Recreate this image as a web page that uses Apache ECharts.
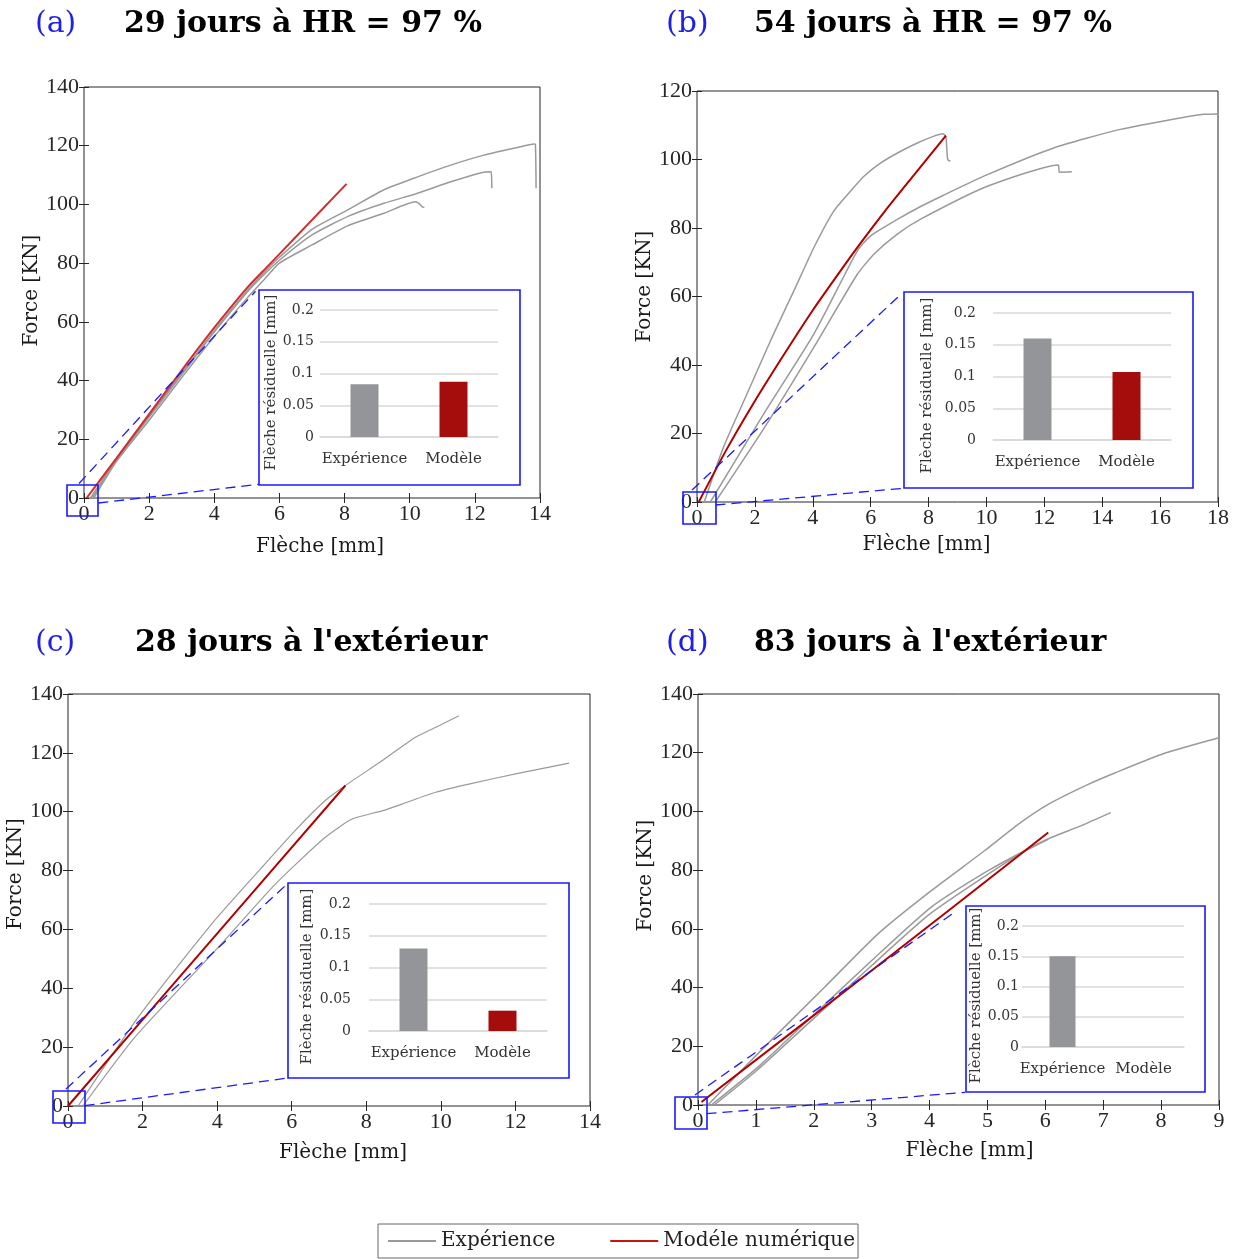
<!DOCTYPE html>
<html><head><meta charset="utf-8">
<script src="https://cdn.jsdelivr.net/npm/echarts@6/dist/echarts.min.js"></script>
<style>html,body{margin:0;padding:0;background:#fff}#c{width:1244px;height:1259px}</style>
</head><body><div id="c"></div>
<script>
// ---------------- DATA ----------------
const panelLabels = ['(a)', '(b)', '(c)', '(d)'];
const panelTitles = ['29 jours à HR = 97 %', '54 jours à HR = 97 %', "28 jours à l'extérieur", "83 jours à l'extérieur"];
const xAxisMax = [14, 18, 14, 9];
const xAxisInterval = [2, 2, 2, 1];
const yAxisMax = [140, 120, 140, 140];
const yAxisInterval = 20;
const xAxisName = 'Flèche [mm]';
const yAxisName = 'Force [KN]';

const barCategories = ['Expérience', 'Modèle'];
const residualA = [0.083, 0.087];
const residualB = [0.160, 0.107];
const residualC = [0.130, 0.032];
const residualD = [0.150, 0];
const insetAxisName = 'Flèche résiduelle [mm]';
const insetYMax = 0.2;
const insetYInterval = 0.05;

const legendNames = ['Expérience', 'Modéle numérique'];

// (a) 29 jours à HR = 97 %
const modelA = [[0.08,0],[1,13.6],[2,28.6],[3,43.5],[4,58],[5,71.5],[5.63,78.8],[6.5,88.9],[7.3,98.2],[8.06,107]];
const expA1 = [[0.2,0],[1,13.5],[2,28],[3,42.5],[4,57],[5,70.5],[5.5,76.5],[6,82],[7,91.5],[8.14,98.4],[9.21,105],[10.24,109.4],[11.26,113.4],[12.28,116.8],[13.3,119.4],[13.82,120.6],[13.86,120.4],[13.88,105.5]];
const expA2 = [[0.25,0],[1,13],[2,27.5],[3,42],[4,56.5],[5,70],[5.5,75.8],[6,81],[7,89.6],[8.14,96.1],[9.21,100.4],[10.24,103.8],[11.26,107.7],[12.23,110.9],[12.5,111.1],[12.52,105.5]];
const expA3 = [[0.3,0],[1,12.5],[2,26.5],[3,41],[4,55],[5,68],[5.5,74],[6,80],[7,86.2],[8.09,92.7],[9.21,97],[10.18,100.9],[10.3,100.2],[10.38,99.2],[10.45,99.0]];

// (b) 54 jours à HR = 97 %
const modelB = [[0.06,0],[1,15],[2,29.5],[3,43],[4,56],[5,68],[5.6,75],[6.5,85],[7.5,95.5],[8.6,107]];
const expB1 = [[0.25,0],[0.92,16.1],[1.73,31.6],[2.54,47.1],[3.35,61.7],[4.04,74.3],[4.73,85],[5.31,90.8],[5.77,95.1],[6.35,99],[7.04,102.4],[7.71,105.2],[8.5,107.5],[8.6,106.5],[8.66,100],[8.75,99.5]];
const expB2 = [[0.46,0],[2.31,25.8],[4.04,49.1],[5.54,73.3],[6,77.7],[6.92,82.5],[7.71,86.2],[8.5,89.5],[10.01,95.5],[12.3,103.3],[14.62,108.8],[16.92,112.5],[17.5,113.2],[18,113.3]];
const expB3 = [[0.63,0],[2.42,22.9],[4.04,45.2],[5.54,66.5],[6.12,72.4],[6.92,78.2],[7.71,82.5],[10.01,92.1],[12.48,98.4],[12.52,96.3],[12.95,96.4]];

// (c) 28 jours à l'extérieur
const modelC = [[0,0],[3.72,54.5],[7.44,108.9]];
const expC1 = [[0.27,0],[1.88,30.1],[3.85,61.8],[5.2,81.1],[6.09,93.6],[6.9,103.8],[7.44,108.9],[8.42,117.3],[9.32,125.3],[9.95,129.2],[10.48,132.6]];
const expC2 = [[0.4,0],[1.79,23.3],[4.03,53.9],[5.56,75.4],[6.9,91.3],[7.62,97.5],[8.42,100.3],[8.96,102.6],[9.86,106.6],[10.75,109.4],[12.1,113.1],[13.44,116.5]];

// (d) 83 jours à l'extérieur
const modelD = [[0.06,1],[3.0,45.8],[6.05,92.8]];
const expD1 = [[0.17,0],[1.15,19.8],[2.19,40.2],[3.11,58.3],[4.03,73],[4.95,86.6],[5.53,95.6],[6.05,102.4],[6.74,109.2],[7.2,113.1],[8.06,119.8],[9,125.1]];
const expD2 = [[0.23,0],[1.04,13],[2.02,31.1],[3.0,49.2],[4.03,67.4],[5.01,79.8],[5.7,87.2],[6.1,91.1],[6.6,95],[7.13,99.6]];
const expD3 = [[0.28,0],[1.0,11.5],[2,29.5],[3,47.5],[4,65],[5,78.5],[5.6,86],[6.05,90.5]];

const expCurves = [[expA1, expA2, expA3], [expB1, expB2, expB3], [expC1, expC2], [expD1, expD2, expD3]];
const modelCurves = [modelA, modelB, modelC, modelD];
const residuals = [residualA, residualB, residualC, residualD];

// ---------------- LAYOUT / STYLE ----------------
const SERIF = 'DejaVu Serif';
const TICKF = 'Liberation Serif';
const AXC = '#262626';
const GRAY = '#9a9a9a';
const REDS = ['#d42c2c', '#b00000', '#b00000', '#b00000'];
const BLUE = '#1a1aff';
const BAR_GRAY = '#939598';
const BAR_RED = '#a50d0d';

const mainGrids = [
  {left: 84, top: 87, width: 456, height: 411},
  {left: 697, top: 91, width: 521, height: 411},
  {left: 68, top: 694, width: 522, height: 412},
  {left: 698, top: 694, width: 521, height: 411}
];
const insetGrids = [
  {left: 320, top: 310, width: 178, height: 127},
  {left: 993, top: 313, width: 178, height: 127},
  {left: 369, top: 904, width: 178, height: 127},
  {left: 1022, top: 926, width: 162, height: 121}
];
const insetBoxes = [[259, 290, 261, 195], [904, 292, 289, 196], [288, 883, 281, 195], [966, 906, 239, 186]];
const zoomBoxes = [[67, 485, 31, 31], [683, 492, 33, 32], [53, 1091, 32, 32], [675, 1097, 32, 32]];
const dashUpper = [[79, 483.5, 255.5, 291.3], [692, 490, 898, 297], [66, 1089, 286, 885], [695, 1095, 955, 912]];
const dashLower = [[98.3, 503, 258.7, 484.3], [715.5, 505, 903.7, 488.3], [84.5, 1105.7, 288, 1078], [706.5, 1113.7, 965, 1092.3]];
const titlePos = [[35, 124, 24.5], [666, 754, 24.5], [35, 135, 643.5], [666, 754, 643.5]];

const xNameGap = [39, 33, 37, 36];
const xNameShift = [8, -31, 14, 11];
const yNameGap = [37, 40, 40, 36];
const yNameUp = [2, 10, 26, 24];
const insetLabelMargin = [6, 17, 18, 3];
const insetNameGap = [39, 58, 54, 35];

function pad(shift) { return shift >= 0 ? [0, 0, 0, 2 * shift] : [0, -2 * shift, 0, 0]; }

const grid = [], xAxis = [], yAxis = [], series = [], graphic = [];
for (let i = 0; i < 4; i++) grid.push(Object.assign({show: true, borderColor: AXC, borderWidth: 1, backgroundColor: 'transparent', containLabel: false}, mainGrids[i]));
for (let i = 0; i < 4; i++) grid.push(Object.assign({show: false, containLabel: false}, insetGrids[i]));

const tickStyle = {show: true, inside: true, length: 5, lineStyle: {color: AXC, width: 1}};
for (let i = 0; i < 4; i++) {
  xAxis.push({
    gridIndex: i, type: 'value', position: 'bottom', min: 0, max: xAxisMax[i], interval: xAxisInterval[i],
    axisLine: {show: false}, axisTick: tickStyle, splitLine: {show: false},
    axisLabel: {fontFamily: TICKF, fontSize: 22, color: AXC, margin: 5, showMinLabel: true, showMaxLabel: true},
    name: xAxisName, nameLocation: 'middle', nameGap: xNameGap[i],
    nameTextStyle: {fontFamily: SERIF, fontSize: 20, color: '#1a1a1a', padding: pad(xNameShift[i])}
  });
  yAxis.push({
    gridIndex: i, type: 'value', position: 'left', min: 0, max: yAxisMax[i], interval: yAxisInterval,
    axisLine: {show: false}, axisTick: tickStyle, splitLine: {show: false},
    axisLabel: {fontFamily: TICKF, fontSize: 22, color: AXC, margin: 5, showMinLabel: true, showMaxLabel: true},
    name: yAxisName, nameLocation: 'middle', nameGap: yNameGap[i],
    nameTextStyle: {fontFamily: SERIF, fontSize: 20, color: '#1a1a1a', padding: pad(yNameUp[i])}
  });
}
for (let i = 0; i < 4; i++) {
  xAxis.push({gridIndex: i, type: 'value', position: 'top', min: 0, max: xAxisMax[i], interval: xAxisInterval[i],
    axisLine: {show: false}, axisTick: tickStyle, axisLabel: {show: false}, splitLine: {show: false}});
  yAxis.push({gridIndex: i, type: 'value', position: 'right', min: 0, max: yAxisMax[i], interval: yAxisInterval,
    axisLine: {show: false}, axisTick: tickStyle, axisLabel: {show: false}, splitLine: {show: false}});
}
for (let i = 0; i < 4; i++) {
  xAxis.push({gridIndex: 4 + i, type: 'category', data: barCategories,
    axisLine: {show: true, lineStyle: {color: '#d9d9d9', width: 1.5}}, axisTick: {show: false},
    axisLabel: {fontFamily: SERIF, fontSize: 15, color: '#333', margin: 15, interval: 0, hideOverlap: false}});
  yAxis.push({gridIndex: 4 + i, type: 'value', min: 0, max: insetYMax, interval: insetYInterval,
    axisLine: {show: false}, axisTick: {show: false},
    splitLine: {show: true, lineStyle: {color: '#d9d9d9', width: 1.5}},
    axisLabel: {fontFamily: SERIF, fontSize: 14, color: '#333', margin: insetLabelMargin[i]},
    name: insetAxisName, nameLocation: 'middle', nameGap: insetNameGap[i],
    nameTextStyle: {fontFamily: SERIF, fontSize: 15, color: '#333', padding: [0, 18, 0, 0]}});
}

for (let i = 0; i < 4; i++) {
  expCurves[i].forEach(function (c) {
    series.push({type: 'line', name: legendNames[0], xAxisIndex: i, yAxisIndex: i, data: c,
      symbol: 'none', showSymbol: false, smooth: 0.2, lineStyle: {color: GRAY, width: i === 2 ? 1.2 : 1.5}, itemStyle: {color: GRAY},
      z: 2, silent: true, animation: false});
  });
  series.push({type: 'line', name: legendNames[1], xAxisIndex: i, yAxisIndex: i, data: modelCurves[i],
    symbol: 'none', showSymbol: false, smooth: 0.2, lineStyle: {color: REDS[i], width: 2}, itemStyle: {color: REDS[i]},
    z: 3, silent: true, animation: false});
  series.push({type: 'bar', name: 'residual' + i, xAxisIndex: 8 + i, yAxisIndex: 8 + i, barWidth: i === 3 ? 26 : 28,
    data: residuals[i].map(function (v, k) { return {value: v, itemStyle: {color: k === 0 ? BAR_GRAY : BAR_RED}}; }),
    silent: true, animation: false, z: 4});
}

for (let i = 0; i < 4; i++) {
  const b = insetBoxes[i], z = zoomBoxes[i], du = dashUpper[i], dl = dashLower[i], t = titlePos[i];
  graphic.push({type: 'rect', shape: {x: b[0], y: b[1], width: b[2], height: b[3]}, style: {fill: 'transparent', stroke: BLUE, lineWidth: 1.6}, z: 5, silent: true});
  graphic.push({type: 'rect', shape: {x: z[0], y: z[1], width: z[2], height: z[3]}, style: {fill: 'transparent', stroke: BLUE, lineWidth: 1.6}, z: 5, silent: true});
  graphic.push({type: 'line', shape: {x1: du[0], y1: du[1], x2: du[2], y2: du[3]}, style: {stroke: BLUE, lineWidth: 1.3, lineDash: [10, 6]}, z: 5, silent: true});
  graphic.push({type: 'line', shape: {x1: dl[0], y1: dl[1], x2: dl[2], y2: dl[3]}, style: {stroke: BLUE, lineWidth: 1.3, lineDash: [10, 6]}, z: 5, silent: true});
  graphic.push({type: 'text', x: t[0], y: t[2], style: {text: panelLabels[i], font: '30px "DejaVu Serif"', fill: '#1f1fe6', textVerticalAlign: 'middle', verticalAlign: 'middle'}, silent: true});
  graphic.push({type: 'text', x: t[1], y: t[2], style: {text: panelTitles[i], font: 'bold 30px "DejaVu Serif"', fill: '#000', textVerticalAlign: 'middle', verticalAlign: 'middle'}, silent: true});
}

const option = {
  animation: false,
  backgroundColor: '#fff',
  grid: grid, xAxis: xAxis, yAxis: yAxis, series: series, graphic: graphic,
  legend: {
    show: true, left: 378, top: 1224, orient: 'horizontal', selectedMode: false,
    padding: [7, 3, 7, 10], itemGap: 55, itemWidth: 48, itemHeight: 2, icon: 'rect',
    borderColor: '#666', borderWidth: 1, backgroundColor: '#fff',
    textStyle: {fontFamily: SERIF, fontSize: 20, color: '#222'},
    data: [
      {name: legendNames[0], icon: 'rect', itemStyle: {color: GRAY}},
      {name: legendNames[1], icon: 'rect', itemStyle: {color: '#cc1111'}}
    ]
  }
};
const chart = echarts.init(document.getElementById('c'));
chart.setOption(option);
</script>
</body></html>
